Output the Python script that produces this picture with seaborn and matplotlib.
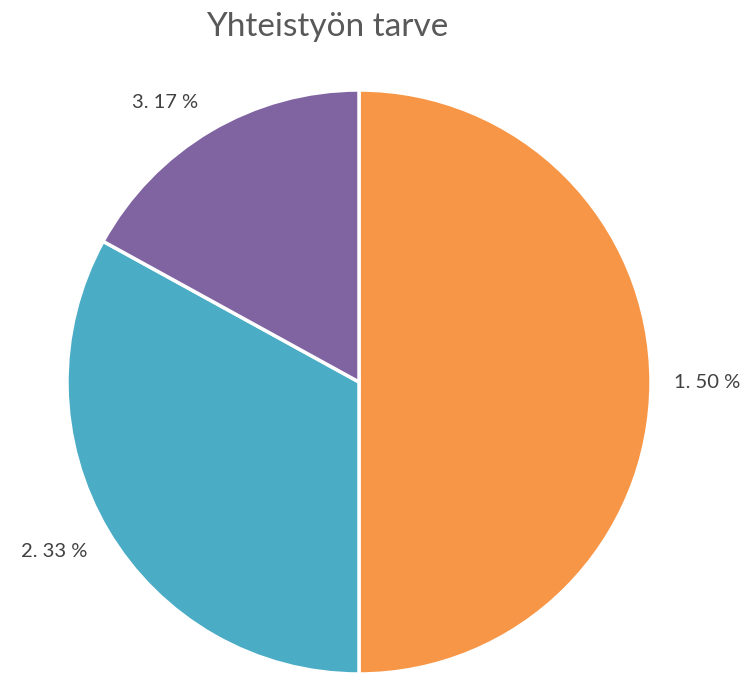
import matplotlib

matplotlib.use("Agg")
import matplotlib.pyplot as plt
import numpy as np
import seaborn as sns

# data
kategoriat = ["1.", "2.", "3."]
osuudet = [50, 33, 17]
varit = ["#F79646", "#4BACC6", "#8064A2"]
otsikko = "Yhteistyön tarve"

sns.set_theme(style="white")
plt.rcParams["font.family"] = ["Lato", "DejaVu Sans"]

fig = plt.figure(figsize=(7.52, 6.73), dpi=100)
# pie centred at ~(359, 382) px with radius ~292 px
ax = fig.add_axes([67 / 752, (673 - 674) / 673, 584 / 752, 584 / 673])

etiketit = [f"{k} {v} %" for k, v in zip(kategoriat, osuudet)]
_, tekstit = ax.pie(
    osuudet,
    labels=etiketit,
    colors=sns.color_palette(varit),
    startangle=90,
    counterclock=False,
    labeldistance=1.08,
    wedgeprops={"edgecolor": "white", "linewidth": 2.5},
    textprops={"fontsize": 14.5, "color": "#404040"},
)
# Excel style: label box sits just outside the pie at the slice middle
for t in tekstit:
    x, y = t.get_position()
    kulma = np.arctan2(y, x)
    c, s = np.cos(kulma), np.sin(kulma)
    t.set_horizontalalignment("left" if c > 0.2 else "right" if c < -0.2 else "center")
    t.set_verticalalignment("bottom" if s > 0.2 else "top" if s < -0.2 else "center")
ax.set_xlim(-1, 1)
ax.set_ylim(-1, 1)
ax.set_aspect("auto")
ax.axis("off")

fig.text(327 / 752, 1 - 27 / 673, otsikko, ha="center", va="center",
         fontsize=24, color="#595959")

fig.savefig("out.png", dpi=100)
